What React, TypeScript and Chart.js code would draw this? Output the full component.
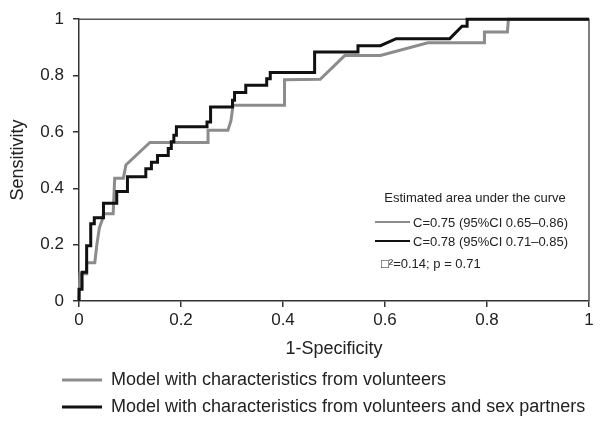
import React, { useEffect, useRef } from "react";
import { Chart, registerables } from "chart.js";

Chart.register(...registerables);

const FONT = '"Liberation Sans", Arial, Helvetica, sans-serif';

// Axis ticks
const xTickValues = [0, 0.2, 0.4, 0.6, 0.8, 1];
const yTickValues = [0, 0.2, 0.4, 0.6, 0.8, 1];

// Model with characteristics from volunteers (grey)
const grayX = [0, 0.002, 0.015, 0.015, 0.031, 0.035, 0.040, 0.046, 0.048, 0.067, 0.070, 0.087, 0.092, 0.139, 0.253, 0.253, 0.292, 0.298, 0.302, 0.403, 0.403, 0.473, 0.521, 0.591, 0.684, 0.795, 0.795, 0.840, 0.842, 1];
const grayY = [0, 0.097, 0.097, 0.136, 0.136, 0.2, 0.26, 0.29, 0.31, 0.31, 0.436, 0.436, 0.483, 0.5625, 0.5625, 0.606, 0.606, 0.64, 0.695, 0.695, 0.785, 0.787, 0.871, 0.871, 0.916, 0.916, 0.955, 0.955, 1, 1];

// Model with characteristics from volunteers and sex partners (black)
const blackX = [0, 0, 0.006, 0.006, 0.015, 0.015, 0.023, 0.023, 0.030, 0.030, 0.048, 0.048, 0.074, 0.074, 0.095, 0.095, 0.131, 0.131, 0.142, 0.142, 0.154, 0.154, 0.175, 0.175, 0.181, 0.181, 0.186, 0.186, 0.191, 0.191, 0.251, 0.251, 0.258, 0.258, 0.301, 0.301, 0.305, 0.305, 0.327, 0.327, 0.368, 0.368, 0.375, 0.375, 0.462, 0.462, 0.547, 0.547, 0.591, 0.622, 0.727, 0.751, 0.761, 0.761, 1];
const blackY = [0, 0.042, 0.042, 0.102, 0.102, 0.196, 0.196, 0.274, 0.274, 0.295, 0.295, 0.347, 0.347, 0.389, 0.389, 0.441, 0.441, 0.469, 0.469, 0.492, 0.492, 0.516, 0.516, 0.541, 0.541, 0.565, 0.565, 0.588, 0.588, 0.618, 0.618, 0.635, 0.635, 0.688, 0.688, 0.712, 0.712, 0.740, 0.740, 0.766, 0.766, 0.789, 0.789, 0.811, 0.811, 0.884, 0.884, 0.906, 0.906, 0.931, 0.931, 0.975, 0.975, 1, 1];

const seriesLabels = [
  "Model with characteristics from volunteers",
  "Model with characteristics from volunteers and sex partners",
];
const aucLabels = ["C=0.75 (95%CI 0.65\u20130.86)", "C=0.78 (95%CI 0.71\u20130.85)"];
const aucTitle = "Estimated area under the curve";
const testText = "\u25A1\u00B2=0.14; p = 0.71";
const xTitle = "1-Specificity";
const yTitle = "Sensitivity";

const GRAY = "#8c8c8c";
const BLACK = "#111111";

const fmt = (v: number) => String(Math.round(v * 10) / 10);

const annotPlugin = {
  id: "annot",
  beforeDatasetsDraw(chart: any) {
    const { ctx, chartArea: a } = chart;
    ctx.save();
    ctx.strokeStyle = "#555";
    ctx.lineWidth = 1.5;
    ctx.beginPath();
    ctx.moveTo(a.left, a.top);
    ctx.lineTo(a.right, a.top);
    ctx.lineTo(a.right, a.bottom);
    ctx.stroke();
    ctx.restore();
  },
  afterDraw(chart: any) {
    const { ctx, chartArea: a } = chart;
    ctx.save();
    ctx.fillStyle = "#222";
    // axis titles
    ctx.font = `18px ${FONT}`;
    ctx.textAlign = "center";
    ctx.textBaseline = "middle";
    ctx.fillText(xTitle, (a.left + a.right) / 2, 349);
    ctx.save();
    ctx.translate(18, (a.top + a.bottom) / 2);
    ctx.rotate(-Math.PI / 2);
    ctx.fillText(yTitle, 0, 0);
    ctx.restore();

    // inner AUC legend
    ctx.font = `13px ${FONT}`;
    ctx.textAlign = "center";
    ctx.fillText(aucTitle, 475, 198);
    ctx.textAlign = "left";
    const rows = [
      { c: GRAY, y: 222, t: aucLabels[0] },
      { c: BLACK, y: 241, t: aucLabels[1] },
    ];
    rows.forEach((r) => {
      ctx.strokeStyle = r.c;
      ctx.lineWidth = 1.8;
      ctx.beginPath();
      ctx.moveTo(375, r.y);
      ctx.lineTo(410, r.y);
      ctx.stroke();
      ctx.fillText(r.t, 413, r.y + 1);
    });
    ctx.fillText(testText, 381, 264);

    // bottom legend
    ctx.font = `18px ${FONT}`;
    const brow = [
      { c: GRAY, y: 380, t: seriesLabels[0] },
      { c: BLACK, y: 407, t: seriesLabels[1] },
    ];
    brow.forEach((r) => {
      ctx.strokeStyle = r.c;
      ctx.lineWidth = 3;
      ctx.beginPath();
      ctx.moveTo(62, r.y);
      ctx.lineTo(102, r.y);
      ctx.stroke();
      ctx.fillText(r.t, 111, r.y);
    });
    ctx.restore();
  },
};

export default function App() {
  const ref = useRef<HTMLCanvasElement | null>(null);
  useEffect(() => {
    if (!ref.current) return;
    const gray = grayX.map((x, i) => ({ x, y: grayY[i] }));
    const black = blackX.map((x, i) => ({ x, y: blackY[i] }));
    const axisCommon = {
      type: "linear" as const,
      min: 0,
      max: 1,
      grid: {
        drawOnChartArea: false,
        drawTicks: true,
        tickLength: 6,
        color: "#333",
        lineWidth: 1.5,
      },
      border: { display: true, color: "#333", width: 1.5 },
    };
    const chart = new Chart(ref.current, {
      type: "line",
      data: {
        datasets: [
          {
            label: seriesLabels[1],
            data: black,
            borderColor: BLACK,
            borderWidth: 3,
            pointRadius: 0,
            tension: 0,
            fill: false,
            order: 1,
            clip: false as any,
          },
          {
            label: seriesLabels[0],
            data: gray,
            borderColor: GRAY,
            borderWidth: 3,
            pointRadius: 0,
            tension: 0,
            fill: false,
            order: 2,
            clip: false as any,
          },
        ],
      },
      options: {
        animation: false,
        responsive: false,
        devicePixelRatio: 1,
        layout: { padding: { top: 16, right: 11, left: 0, bottom: 0 } },
        plugins: {
          legend: { display: false },
          tooltip: { enabled: false },
        },
        scales: {
          x: {
            ...axisCommon,
            afterBuildTicks: (s: any) => {
              s.ticks = xTickValues.map((v) => ({ value: v }));
            },
            afterFit: (s: any) => {
              s.height = 140;
            },
            ticks: {
              font: { family: FONT, size: 17 },
              color: "#222",
              padding: 3,
              maxRotation: 0,
              autoSkip: false,
              callback: (v: any) => fmt(Number(v)),
            },
          },
          y: {
            ...axisCommon,
            afterBuildTicks: (s: any) => {
              s.ticks = yTickValues.map((v) => ({ value: v }));
            },
            afterFit: (s: any) => {
              s.width = 79;
            },
            ticks: {
              font: { family: FONT, size: 17 },
              color: "#222",
              padding: 9,
              autoSkip: false,
              callback: (v: any) => fmt(Number(v)),
            },
          },
        },
      },
      plugins: [annotPlugin],
    });
    return () => chart.destroy();
  }, []);
  return (
    <div style={{ position: "absolute", left: 0, top: 0, width: 600, height: 441, background: "#fff" }}>
      <canvas ref={ref} width={600} height={441} />
    </div>
  );
}
